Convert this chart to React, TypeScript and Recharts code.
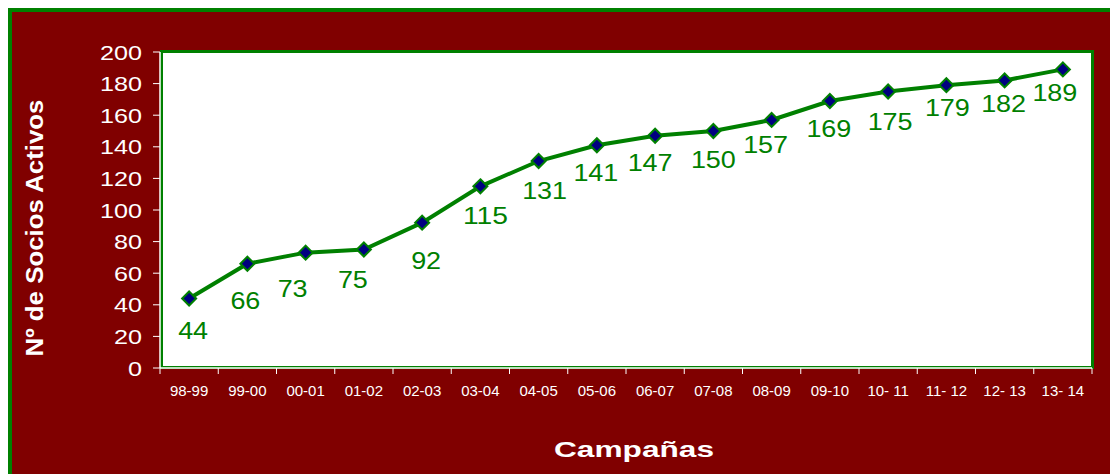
import React from "react";
import { LineChart, Line, XAxis, YAxis, LabelList } from "recharts";

// ----------------------------- Data -----------------------------
const campaigns = [
  "98-99", "99-00", "00-01", "01-02", "02-03", "03-04", "04-05", "05-06",
  "06-07", "07-08", "08-09", "09-10", "10- 11", "11- 12", "12- 13", "13- 14",
];
const socios = [44, 66, 73, 75, 92, 115, 131, 141, 147, 150, 157, 169, 175, 179, 182, 189];
const yTicks = [0, 20, 40, 60, 80, 100, 120, 140, 160, 180, 200];

// label nudges (Excel put the data labels a little off-centre under each point)
const labelDx = [4, -2, -13, -11, 4, 5, 6, -1, -5, 0, -6, -1, 2, 1, -1, -8];
const labelDy = [32, 37, 36, 30, 38, 29, 29, 27, 27, 28, 25, 28, 30, 22, 23, 23];

// ----------------------------- Style -----------------------------
const W = 1110;
const H = 474;
const MAROON = "#800000";
const GREEN = "#008000";
const FONT = "'Liberation Sans', Arial, sans-serif";
const PLOT_LEFT = 160;
const PLOT_RIGHT = 1092;
const STEP = (PLOT_RIGHT - PLOT_LEFT) / campaigns.length;

const data = campaigns.map((c, i) => ({ pos: i + 0.5, campaign: c, socios: socios[i] }));
const xTicks = campaigns.map((_, i) => i).concat([campaigns.length]);

const XTick = (props: any) => {
  const { x, y, payload } = props;
  const label = campaigns[payload.value];
  if (!label) return null;
  return (
    <text
      x={x + STEP / 2}
      y={y + 14}
      textAnchor="middle"
      dominantBaseline="central"
      fill="#fff"
      fontSize={15}
      fontFamily={FONT}
    >
      {label}
    </text>
  );
};

const YTick = (props: any) => {
  const { x, y, payload } = props;
  const s = String(payload.value);
  return (
    <text
      x={x}
      y={y}
      textAnchor="end"
      dominantBaseline="central"
      fill="#fff"
      fontSize={21}
      fontFamily={FONT}
      textLength={s.length * 14}
      lengthAdjust="spacingAndGlyphs"
    >
      {s}
    </text>
  );
};

const Diamond = (props: any) => {
  const { cx, cy, index } = props;
  if (cx == null || cy == null) return null;
  const r = 7;
  return (
    <polygon
      key={`d-${index}`}
      points={`${cx},${cy - r} ${cx + r},${cy} ${cx},${cy + r} ${cx - r},${cy}`}
      fill="#000080"
      stroke={GREEN}
      strokeWidth={2}
    />
  );
};

const ValueLabel = (props: any) => {
  const { x, y, value, index } = props;
  const s = String(value);
  return (
    <text
      x={x + labelDx[index]}
      y={y + labelDy[index]}
      textAnchor="middle"
      dominantBaseline="central"
      fill={GREEN}
      fontSize={24}
      fontFamily={FONT}
      textLength={s.length * 15}
      lengthAdjust="spacingAndGlyphs"
    >
      {s}
    </text>
  );
};

export default function App() {
  return (
    <div style={{ position: "absolute", left: 0, top: 0, width: W, height: H, overflow: "hidden", background: "#fff" }}>
      {/* outer frame */}
      <div
        style={{
          position: "absolute",
          left: 8,
          top: 8,
          width: W,
          height: H,
          background: MAROON,
          border: `4px solid ${GREEN}`,
          boxSizing: "border-box",
        }}
      />
      {/* plot area box */}
      <div
        style={{
          position: "absolute",
          left: 160,
          top: 50,
          width: 934,
          height: 319,
          background: "#fff",
          border: `3px solid ${GREEN}`,
          boxSizing: "border-box",
        }}
      />
      <div style={{ position: "absolute", left: 0, top: 0 }}>
        <LineChart width={W} height={H} data={data} margin={{ top: 52, right: W - PLOT_RIGHT, bottom: 76, left: 100 }}>
          <XAxis
            type="number"
            dataKey="pos"
            domain={[0, campaigns.length]}
            ticks={xTicks}
            interval={0}
            height={30}
            tick={<XTick />}
            tickSize={6}
            axisLine={{ stroke: "#fff", strokeWidth: 1.5 }}
            tickLine={{ stroke: "#fff" }}
            label={{
              content: () => (
                <text
                  x={634}
                  y={457}
                  textAnchor="middle"
                  fill="#fff"
                  fontSize={22}
                  fontWeight="bold"
                  fontFamily={FONT}
                  textLength={160}
                  lengthAdjust="spacingAndGlyphs"
                >
                  Campañas
                </text>
              ),
            }}
          />
          <YAxis
            type="number"
            domain={[0, 200]}
            ticks={yTicks}
            interval={0}
            width={60}
            tick={<YTick />}
            tickSize={7}
            tickMargin={11}
            axisLine={{ stroke: "#fff", strokeWidth: 1.5 }}
            tickLine={{ stroke: "#fff" }}
            label={{
              content: () => (
                <text
                  x={43}
                  y={228}
                  transform="rotate(-90, 43, 228)"
                  textAnchor="middle"
                  fill="#fff"
                  fontSize={24}
                  fontWeight="bold"
                  fontFamily={FONT}
                  textLength={257}
                  lengthAdjust="spacingAndGlyphs"
                >
                  Nº de Socios Activos
                </text>
              ),
            }}
          />
          <Line
            type="linear"
            dataKey="socios"
            stroke={GREEN}
            strokeWidth={4}
            dot={<Diamond />}
            activeDot={false}
            isAnimationActive={false}
          >
            <LabelList dataKey="socios" content={<ValueLabel />} />
          </Line>
        </LineChart>
      </div>
    </div>
  );
}
